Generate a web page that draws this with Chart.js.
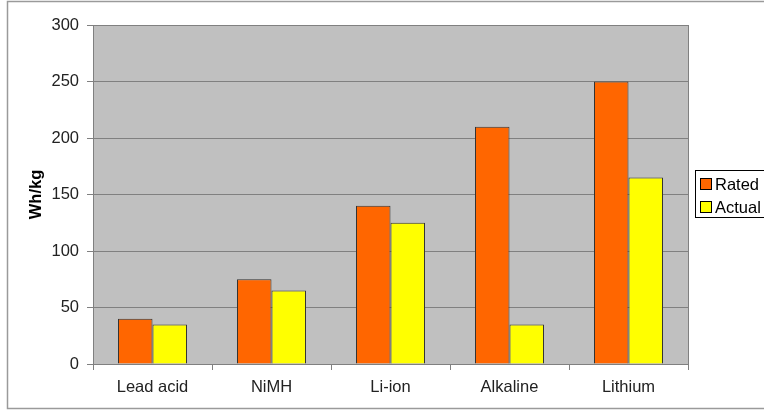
<!DOCTYPE html>
<html>
<head>
<meta charset="utf-8">
<script src="https://cdn.jsdelivr.net/npm/chart.js@4"></script>
<style>
html,body{margin:0;padding:0;background:#fff;}
#wrap{width:764px;height:412px;position:relative;}
</style>
</head>
<body>
<div id="wrap"><canvas id="c" width="764" height="412"></canvas></div>
<script>
const categories = ["Lead acid", "NiMH", "Li-ion", "Alkaline", "Lithium"];
const rated = [40, 75, 140, 210, 250];
const actual = [35, 65, 125, 35, 165];
const seriesNames = ["Rated", "Actual"];
const yTitle = "Wh/kg";

const FONT = "'Liberation Sans', Arial, sans-serif";
const FS = 16.5;

const decor = {
  id: 'decor',
  beforeDraw(chart) {
    const {ctx, chartArea: a} = chart;
    ctx.save();
    ctx.fillStyle = '#fff';
    ctx.fillRect(0, 0, chart.width, chart.height);
    ctx.fillStyle = '#C0C0C0';
    ctx.fillRect(a.left, a.top, a.right - a.left, a.bottom - a.top);
    ctx.restore();
  },
  afterDraw(chart) {
    const {ctx, chartArea: a} = chart;
    ctx.save();
    // plot right border
    ctx.strokeStyle = '#808080';
    ctx.lineWidth = 1;
    ctx.beginPath();
    ctx.moveTo(Math.round(a.right) + 0.5, a.top);
    ctx.lineTo(Math.round(a.right) + 0.5, a.bottom);
    ctx.stroke();
    // outer border
    ctx.strokeStyle = '#9a9a9a';
    ctx.lineWidth = 1.5;
    ctx.strokeRect(7.5, 1.5, 800, 407);
    // legend
    const lx = 695.5, ly = 170.5;
    ctx.strokeStyle = '#000';
    ctx.lineWidth = 1;
    ctx.strokeRect(lx, ly, 100, 47);
    ctx.font = FS + 'px ' + FONT;
    ctx.textBaseline = 'middle';
    chart.data.datasets.forEach((ds, i) => {
      const cy = 184 + i * 23;
      ctx.fillStyle = ds.backgroundColor;
      ctx.fillRect(701, cy - 5, 10, 10);
      ctx.strokeStyle = '#000';
      ctx.strokeRect(700.5, cy - 5.5, 11, 11);
      ctx.fillStyle = '#000';
      ctx.fillText(ds.label, 715, cy + 1);
    });
    ctx.restore();
  }
};

new Chart(document.getElementById('c'), {
  type: 'bar',
  data: {
    labels: categories,
    datasets: [
      {label: seriesNames[0], data: rated, backgroundColor: '#FF6600', borderColor: '#333333', borderWidth: 1},
      {label: seriesNames[1], data: actual, backgroundColor: '#FFFF00', borderColor: '#333333', borderWidth: 1}
    ]
  },
  options: {
    responsive: false,
    animation: false,
    layout: {padding: {left: 0, right: 76, top: 25, bottom: 0}},
    plugins: {legend: {display: false}, tooltip: {enabled: false}},
    datasets: {bar: {categoryPercentage: 0.58, barPercentage: 1.0}},
    scales: {
      x: {
        grid: {display: true, drawOnChartArea: false, drawTicks: true, tickLength: 6, color: '#808080', offset: true},
        border: {display: true, color: '#808080'},
        ticks: {font: {family: FONT, size: FS}, color: '#222', padding: 8},
        afterFit(s) { s.height = 48; }
      },
      y: {
        min: 0, max: 300,
        ticks: {stepSize: 50, font: {family: FONT, size: FS}, color: '#222', padding: 8},
        grid: {color: '#808080', tickLength: 6, lineWidth: 1},
        border: {display: true, color: '#808080'},
        title: {display: true, text: yTitle, font: {family: FONT, size: FS, weight: 'bold'}, color: '#000', padding: {top: 27, bottom: 0}},
        afterFit(s) { s.width = 93; }
      }
    }
  },
  plugins: [decor]
});
</script>
</body>
</html>
